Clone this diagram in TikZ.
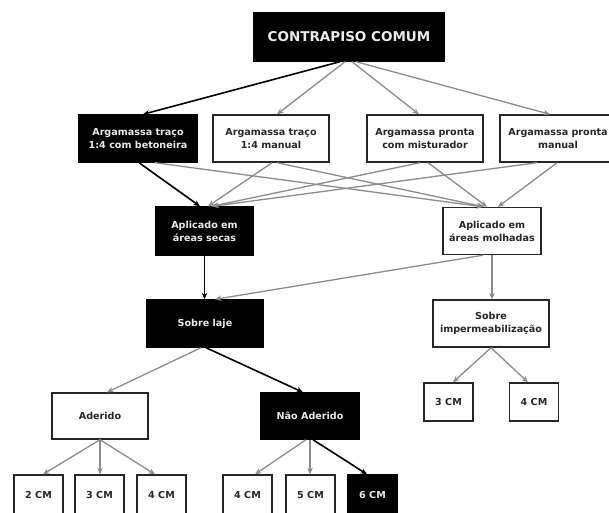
\documentclass[tikz,border=0pt]{standalone}
\usepackage{fontspec}
\setmainfont{DejaVu Sans}
\usetikzlibrary{arrows.meta}
\definecolor{arrgray}{HTML}{8C8C8C}
\begin{document}
\begin{tikzpicture}[x=1pt,y=-1pt,
  box/.style={draw=black!85, line width=1.4pt, fill=white, text=black!85, inner sep=0pt,
    font=\bfseries\fontsize{9.6}{13}\selectfont, align=center},
  dbox/.style={box, fill=black, draw=black, text=black!8},
  g/.style={draw=arrgray, line width=1.3pt, -{Stealth[length=6.5pt,width=5.5pt]}},
  k/.style={draw=black, line width=1.6pt, -{Stealth[length=6.5pt,width=5.5pt]}},
]
\useasboundingbox (0,0) rectangle (609,512);
\fill[white] (0,0) rectangle (609,512);

% nodes
\node[dbox, minimum width=190pt, minimum height=48pt, font=\bfseries\fontsize{13.5}{16}\selectfont] (top) at (349,37) {CONTRAPISO COMUM};
\node[dbox, minimum width=118pt, minimum height=47pt] (b1) at (138,138.5) {Argamassa traço\\1:4 com betoneira};
\node[box, minimum width=116pt, minimum height=47pt] (b2) at (271,138.5) {Argamassa traço\\1:4 manual};
\node[box, minimum width=116pt, minimum height=47pt] (b3) at (425,138.5) {Argamassa pronta\\com misturador};
\node[box, minimum width=116pt, minimum height=47pt] (b4) at (558,138.5) {Argamassa pronta\\manual};

\node[dbox, minimum width=97pt, minimum height=48pt] (secas) at (204.5,231) {Aplicado em\\áreas secas};
\node[box, minimum width=98pt, minimum height=47pt] (molh) at (492,231) {Aplicado em\\áreas molhadas};

\node[dbox, minimum width=116pt, minimum height=47pt] (laje) at (205,323.5) {Sobre laje};
\node[box, minimum width=116pt, minimum height=47pt] (imper) at (491,323.5) {Sobre\\impermeabilização};

\node[box, minimum width=96pt, minimum height=46pt] (ader) at (100,416) {Aderido};
\node[dbox, minimum width=98pt, minimum height=46pt] (nader) at (310,416) {Não Aderido};

\node[box, minimum width=49pt, minimum height=38pt] (r1) at (448.5,402) {3 CM};
\node[box, minimum width=49pt, minimum height=38pt] (r2) at (534,402) {4 CM};

\node[box, minimum width=49pt, minimum height=40pt] (c1) at (38.5,495) {2 CM};
\node[box, minimum width=49pt, minimum height=40pt] (c2) at (99.5,495) {3 CM};
\node[box, minimum width=49pt, minimum height=40pt] (c3) at (161.5,495) {4 CM};
\node[box, minimum width=49pt, minimum height=40pt] (c4) at (247.5,495) {4 CM};
\node[box, minimum width=49pt, minimum height=40pt] (c5) at (310.5,495) {5 CM};
\node[dbox, minimum width=49pt, minimum height=40pt] (c6) at (372.5,495) {6 CM};

% top -> row 2
\draw[k] ([xshift=-9pt]top.south) -- ([xshift=5pt]b1.north);
\draw[g] ([xshift=-4pt]top.south) -- ([xshift=6pt]b2.north);
\draw[g] ([xshift=3pt]top.south) -- ([xshift=-6pt]b3.north);
\draw[g] ([xshift=7pt]top.south) -- ([xshift=-8pt]b4.north);

% row 2 -> secas / molhadas
\draw[g] ([xshift=17pt]b1.south) -- ([xshift=-9pt]molh.north);
\draw[g] ([xshift=6pt]b2.south) -- ([xshift=-8pt]molh.north);
\draw[g] ([xshift=3pt]b3.south) -- ([xshift=-5pt]molh.north);
\draw[g] ([xshift=-1pt]b4.south) -- ([xshift=6pt]molh.north);
\draw[g] ([xshift=1pt]b2.south) -- ([xshift=3.5pt]secas.north);
\draw[g] ([xshift=-5pt]b3.south) -- ([xshift=7pt]secas.north);
\draw[g] ([xshift=-21pt]b4.south) -- ([xshift=8pt]secas.north);
\draw[k] ([xshift=1pt]b1.south) -- ([xshift=-4.5pt]secas.north);

% row 3 -> row 4
\draw[k] (secas.south) -- (secas.south |- laje.north);
\draw[g] ([xshift=-9pt]molh.south) -- ([xshift=10pt]laje.north);
\draw[g] (molh.south) -- (molh.south |- imper.north);

% row 4 -> row 5
\draw[g] ([xshift=-4pt]laje.south) -- ([xshift=7pt]ader.north);
\draw[k] ([xshift=1pt]laje.south) -- ([xshift=-7pt]nader.north);
\draw[g] (imper.south) -- ([xshift=4.5pt]r1.north);
\draw[g] (imper.south) -- ([xshift=-6pt]r2.north);

% row 5 -> row 6
\draw[g] (ader.south) -- ([xshift=4.5pt]c1.north);
\draw[g] (ader.south) -- (ader.south |- c2.north);
\draw[g] (ader.south) -- ([xshift=-6.5pt]c3.north);
\draw[g] ([xshift=-4pt]nader.south) -- ([xshift=7.5pt]c4.north);
\draw[g] (nader.south) -- (nader.south |- c5.north);
\draw[k] ([xshift=3pt]nader.south) -- ([xshift=-5.5pt]c6.north);
\end{tikzpicture}
\end{document}
